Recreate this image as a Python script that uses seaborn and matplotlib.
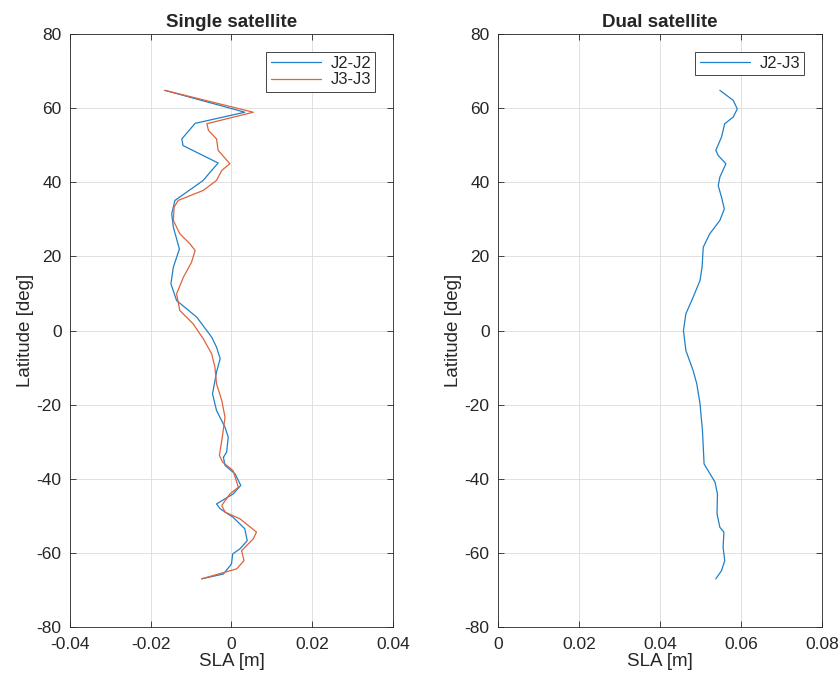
import seaborn as sns
import pandas as pd
import matplotlib.pyplot as plt

# J2-J2 (single satellite)
lat_j2 = [64.8, 58.9, 55.9, 51.7, 49.9, 45.2, 42.7, 40.5, 35.1, 31.5, 27.9, 22.0, 17.1, 12.6, 8.1, 3.6,
          -1.8, -4.5, -7.6, -11.2, -17.1, -21.6, -26.1, -28.8, -32.8, -34.2, -36.4, -38.7, -41.8, -44.1,
          -46.8, -48.1, -50.4, -53.5, -56.7, -58.9, -60.3, -63.0, -65.7, -67.0]
sla_j2 = [-0.0165, 0.0033, -0.0090, -0.0123, -0.0120, -0.0033, -0.0053, -0.0070, -0.0140, -0.0148,
          -0.0144, -0.0129, -0.0144, -0.0150, -0.0136, -0.0086, -0.0049, -0.0037, -0.0028, -0.0037,
          -0.0047, -0.0037, -0.0016, -0.0008, -0.0012, -0.0020, -0.0016, 0.0009, 0.0023, 0.0004,
          -0.0037, -0.0028, 0.0004, 0.0033, 0.0039, 0.0021, 0.0003, 0.0000, -0.0020, -0.0074]

# J3-J3 (single satellite)
lat_j3 = [64.8, 58.9, 55.8, 54.0, 51.7, 48.6, 45.0, 43.2, 40.5, 37.8, 35.1, 33.3, 29.7, 26.1, 23.4,
          21.6, 18.4, 14.4, 9.9, 5.4, 1.8, -2.2, -6.3, -9.9, -14.4, -18.9, -23.4, -29.7, -33.7, -35.5,
          -37.8, -42.3, -44.1, -47.2, -49.0, -50.8, -54.4, -56.2, -59.4, -62.1, -64.3, -67.0]
sla_j3 = [-0.0165, 0.0054, -0.0061, -0.0057, -0.0037, -0.0033, -0.0004, -0.0024, -0.0037, -0.0070,
          -0.0132, -0.0142, -0.0144, -0.0128, -0.0103, -0.0090, -0.0099, -0.0119, -0.0136, -0.0128,
          -0.0095, -0.0070, -0.0049, -0.0041, -0.0037, -0.0024, -0.0016, -0.0024, -0.0030, -0.0022,
          0.0004, 0.0017, -0.0004, -0.0024, -0.0016, 0.0021, 0.0062, 0.0054, 0.0025, 0.0031, 0.0013,
          -0.0074]

# J2-J3 (dual satellite)
lat_dual = [64.8, 62.1, 59.8, 57.6, 55.8, 52.2, 48.6, 47.2, 45.0, 41.4, 39.1, 36.0, 32.8, 29.7, 26.1,
            22.5, 17.1, 13.5, 9.0, 4.5, 0.0, -5.4, -10.8, -14.4, -19.8, -27.0, -36.0, -40.9, -44.1,
            -49.5, -53.1, -54.4, -58.5, -62.1, -64.8, -67.0]
sla_dual = [0.0548, 0.0581, 0.0591, 0.0581, 0.0560, 0.0552, 0.0538, 0.0544, 0.0563, 0.0548, 0.0544,
            0.0552, 0.0559, 0.0548, 0.0523, 0.0507, 0.0504, 0.0499, 0.0482, 0.0464, 0.0458, 0.0464,
            0.0482, 0.0491, 0.0499, 0.0505, 0.0509, 0.0536, 0.0542, 0.0541, 0.0548, 0.0558, 0.0556,
            0.0560, 0.0552, 0.0538]

blue = "#1f80c8"
orange = "#e0623a"

sns.set_style("ticks")
plt.rcParams.update({
    "font.family": ["Liberation Sans", "DejaVu Sans"],
    "axes.unicode_minus": False,
    "axes.edgecolor": "#262626",
    "axes.linewidth": 0.6,
    "xtick.direction": "in",
    "ytick.direction": "in",
    "xtick.top": True,
    "ytick.right": True,
    "xtick.major.size": 4,
    "ytick.major.size": 4,
    "xtick.major.width": 0.6,
    "ytick.major.width": 0.6,
    "xtick.major.pad": 7,
    "ytick.major.pad": 6,
    "xtick.labelsize": 12.5,
    "ytick.labelsize": 12.5,
    "xtick.color": "#262626",
    "ytick.color": "#262626",
})

fig = plt.figure(figsize=(8.39, 6.75), dpi=100)
ax1 = fig.add_axes([0.0834, 0.0711, 0.385, 0.8785])
ax2 = fig.add_axes([0.5936, 0.0711, 0.386, 0.8785])

df1 = pd.DataFrame({"SLA": sla_j2, "Lat": lat_j2})
df2 = pd.DataFrame({"SLA": sla_j3, "Lat": lat_j3})
df3 = pd.DataFrame({"SLA": sla_dual, "Lat": lat_dual})

sns.lineplot(data=df1, x="SLA", y="Lat", sort=False, estimator=None, color=blue, lw=0.9, label="J2-J2", ax=ax1)
sns.lineplot(data=df2, x="SLA", y="Lat", sort=False, estimator=None, color=orange, lw=0.9, label="J3-J3", ax=ax1)
sns.lineplot(data=df3, x="SLA", y="Lat", sort=False, estimator=None, color=blue, lw=0.9, label="J2-J3", ax=ax2)

for ax, xlim, xt, title in [
    (ax1, (-0.04, 0.04), [-0.04, -0.02, 0, 0.02, 0.04], "Single satellite"),
    (ax2, (0, 0.08), [0, 0.02, 0.04, 0.06, 0.08], "Dual satellite"),
]:
    ax.set_xlim(*xlim)
    ax.set_ylim(-80, 80)
    ax.set_xticks(xt)
    ax.set_xticklabels([f"{v:g}" for v in xt])
    ax.set_yticks(range(-80, 81, 20))
    ax.grid(True, color="#dcdcdc", lw=0.6)
    ax.set_axisbelow(True)
    ax.set_title(title, fontsize=13.5, fontweight="bold", pad=5)
    ax.set_xlabel("SLA [m]", fontsize=13.5, labelpad=1)
    ax.set_ylabel("Latitude [deg]", fontsize=13.5, labelpad=2)
    leg = ax.legend(loc="upper right", fontsize=12, frameon=True, fancybox=False,
                    edgecolor="#262626", framealpha=1, handlelength=3.0,
                    handletextpad=0.6, borderaxespad=1.05, borderpad=0.25,
                    labelspacing=0.1)
    leg.get_frame().set_linewidth(0.6)

fig.savefig("out.png", dpi=100)
